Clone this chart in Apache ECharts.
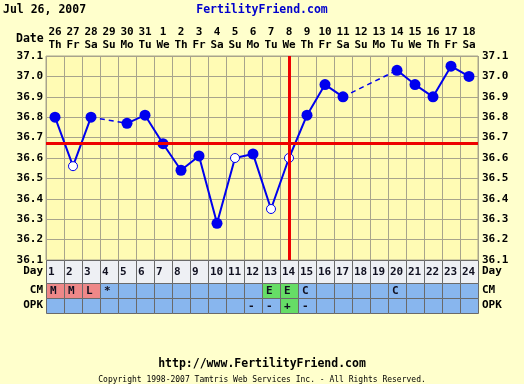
<!DOCTYPE html>
<html><head><meta charset="utf-8">
<script src="https://cdn.jsdelivr.net/npm/echarts@6/dist/echarts.min.js"></script>
<style>html,body{margin:0;padding:0;background:#ffffcc}#c{width:524px;height:384px}</style>
</head><body><div id="c"></div>
<script>
// ---- data ----
const dates = ['26','27','28','29','30','31','1','2','3','4','5','6','7','8','9','10','11','12','13','14','15','16','17','18'];
const weekdays = ['Th','Fr','Sa','Su','Mo','Tu','We','Th','Fr','Sa','Su','Mo','Tu','We','Th','Fr','Sa','Su','Mo','Tu','We','Th','Fr','Sa'];
const cycleDays = ['1','2','3','4','5','6','7','8','9','10','11','12','13','14','15','16','17','18','19','20','21','22','23','24'];
const temps = [36.80,36.56,36.80,null,36.77,36.81,36.67,36.54,36.61,36.28,36.60,36.62,36.35,36.60,36.81,36.96,36.90,null,null,37.03,36.96,36.90,37.05,37.00];
const openDays = [2,11,13,14];
const coverline = 36.67;
const ovulationDay = 14;
const cmCodes = ['M','M','L','*','','','','','','','','','E','E','C','','','','','C','','','',''];
const opkCodes = ['','','','','','','','','','','','-','-','+','-','','','','','','','','',''];

// ---- style ----
const FONT = '"DejaVu Sans Mono", monospace';
const BLUE = '#0000ee', RED = '#ee0000', GRID = '#a8a48c';
const cellFill = {M:'#ee8888', L:'#ee8888', E:'#66dd66', '+':'#66dd66'};

const chart = echarts.init(document.getElementById('c'), null, {renderer:'canvas'});

const pointData = temps.map((v, i) => {
  if (v == null) return null;
  if (openDays.includes(i + 1)) {
    return {value: v, symbolSize: 9, itemStyle: {color: '#ffffff', borderColor: BLUE, borderWidth: 1}};
  }
  return {value: v, symbolSize: 11, itemStyle: {color: BLUE}};
});

// dashed bridges across missing days
const bridges = [];
let prev = -1;
temps.forEach((v, i) => {
  if (v == null) return;
  if (prev >= 0 && i - prev > 1) {
    const arr = temps.map(() => null);
    arr[prev] = temps[prev]; arr[i] = v;
    bridges.push({type:'line', xAxisIndex:0, yAxisIndex:0, data: arr, connectNulls: true,
      symbol:'none', z:2, lineStyle:{color: BLUE, width: 1.5, type: [5, 4]}, silent:true});
  }
  prev = i;
});

function rowSeries(idx, codes, baseFill) {
  return {
    type:'custom', xAxisIndex: idx, yAxisIndex: idx * 2, silent:true,
    data: cycleDays.map((d, i) => [i, 0]),
    encode:{x:0, y:1},
    renderItem: function (params, api) {
      const i = params.dataIndex;
      const c = api.coord([api.value(0), 0]);
      const s = api.size([1, 1]);
      const x = Math.round(c[0] - s[0] / 2) + 0.5, y = Math.round(c[1] - s[1] / 2) + 0.5;
      const code = codes[i];
      const fill = (codes === cycleDays) ? baseFill : (cellFill[code] || baseFill);
      const children = [{type:'rect', shape:{x, y, width: s[0], height: s[1]},
        style:{fill, stroke:'#6a6a6a', lineWidth:1}}];
      if (code) children.push({type:'text', style:{text: code, x: x + (codes === cycleDays ? 1.5 : 3.5), y: c[1] + 1,
        fill:'#101020', font:'bold 11px ' + FONT, align:'left', verticalAlign:'middle'}});
      return {type:'group', children};
    }
  };
}

const rowGrids = [{top:260, height:23, name:'Day'}, {top:283, height:15, name:'CM'}, {top:298, height:15, name:'OPK'}];
const labelStyle = {color:'#000', fontFamily: FONT, fontWeight:'bold', fontSize:11};

const option = {
  backgroundColor:'#ffffcc',
  animation:false,
  grid: [{left:46, right:46, top:56, height:204, show:true, backgroundColor:'#fffbb4', borderColor:GRID, borderWidth:1}]
    .concat(rowGrids.map(g => ({left:46, right:46, top:g.top, height:g.height}))),
  xAxis: [{type:'category', gridIndex:0, data: dates, position:'top', boundaryGap:true,
      axisLine:{show:false}, axisTick:{show:false},
      splitLine:{show:true, interval:0, lineStyle:{color:GRID, width:1}},
      axisLabel:Object.assign({interval:0, margin:4, lineHeight:13,
        formatter:(v, i) => v + '\n' + weekdays[i]}, labelStyle)}]
    .concat(rowGrids.map((g, k) => ({type:'category', gridIndex:k + 1, data: cycleDays, boundaryGap:true, show:false}))),
  yAxis: [
    {type:'value', gridIndex:0, min:36.1, max:37.1, interval:0.1, axisLine:{show:false}, axisTick:{show:false},
      splitLine:{show:true, lineStyle:{color:GRID, width:1}},
      axisLabel:Object.assign({margin:3, formatter: v => v.toFixed(1)}, labelStyle)},
    {type:'value', gridIndex:0, position:'right', min:36.1, max:37.1, interval:0.1, axisLine:{show:false}, axisTick:{show:false},
      splitLine:{show:false},
      axisLabel:Object.assign({margin:4, formatter: v => v.toFixed(1)}, labelStyle)}
  ].concat([].concat(...rowGrids.map((g, k) => [
    {type:'category', gridIndex:k + 1, data:[g.name], axisLine:{show:false}, axisTick:{show:false},
      axisLabel:Object.assign({margin:3}, labelStyle)},
    {type:'category', gridIndex:k + 1, position:'right', data:[g.name], axisLine:{show:false}, axisTick:{show:false},
      axisLabel:Object.assign({margin:4}, labelStyle)}
  ]))),
  graphic: [
    {type:'text', left:3, top:4, style:{text:'Jul 26, 2007', font:'bold 11.5px ' + FONT, fill:'#000'}},
    {type:'text', left:'center', top:4, style:{text:'FertilityFriend.com', font:'bold 11.5px ' + FONT, fill:'#0000cc'}},
    {type:'text', left:16, top:33, style:{text:'Date', font:'bold 11.5px ' + FONT, fill:'#000'}},
    {type:'text', left:'center', top:358, style:{text:'http://www.FertilityFriend.com', font:'bold 11.5px ' + FONT, fill:'#000'}},
    {type:'text', left:'center', top:376, style:{text:'Copyright 1998-2007 Tamtris Web Services Inc. - All Rights Reserved.', font:'8px ' + FONT, fill:'#000'}}
  ],
  series: [
    {type:'line', xAxisIndex:0, yAxisIndex:0, data:[], z:1, silent:true,
      markLine:{symbol:'none', silent:true, label:{show:false},
        lineStyle:{color:RED, width:3, type:'solid'},
        data:[{yAxis: coverline}, {xAxis: ovulationDay - 1}]}},
    ...bridges,
    {type:'line', xAxisIndex:0, yAxisIndex:0, data: pointData, connectNulls:false, z:3,
      symbol:'circle', showAllSymbol:true, lineStyle:{color:BLUE, width:2}, itemStyle:{color:BLUE}, silent:true},
    rowSeries(1, cycleDays, '#eef0f4'),
    rowSeries(2, cmCodes, '#88b6ee'),
    rowSeries(3, opkCodes, '#88b6ee')
  ]
};
chart.setOption(option);
</script></body></html>
